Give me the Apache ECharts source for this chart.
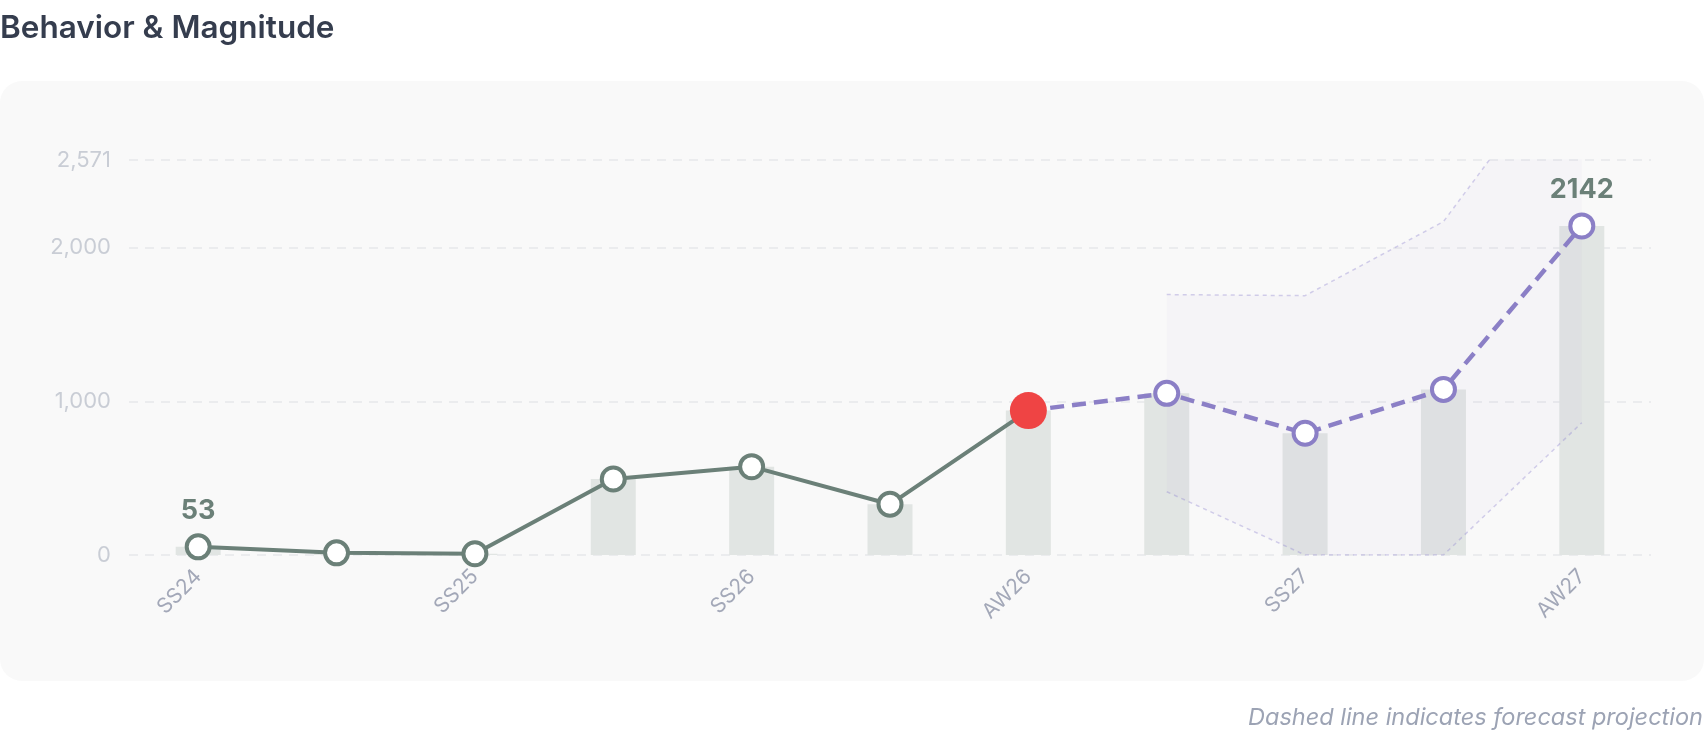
<!DOCTYPE html>
<html>
<head>
<meta charset="utf-8">
<script src="https://cdn.jsdelivr.net/npm/echarts@6/dist/echarts.min.js"></script>
<style>
html,body{margin:0;padding:0;background:#ffffff;}
#c{width:1704px;height:732px;}
</style>
</head>
<body>
<div id="c"></div>
<script>
// ---- data ----
var categories = ["SS24","AW24","SS25","AW25","SS26","Pre-AW26","AW26","Pre-SS27","SS27","Pre-AW27","AW27"];
var actualValues = [53, 14, 8, 495, 575, 330, 940, '-', '-', '-', '-'];
var forecastValues = ['-', '-', '-', '-', '-', '-', 940, 1052, 792, 1078, 2142];
var barValues = [53, 14, 8, 495, 575, 330, 940, 1052, 792, 1078, 2142];
var bandLower = ['-', '-', '-', '-', '-', '-', '-', 412, 0, 0, 861];
var bandUpper = ['-', '-', '-', '-', '-', '-', '-', 1695, 1688, 2170, 3380];
var yMax = 2571;
var currentIndex = 6;
var titleText = "Behavior & Magnitude";
var footnoteText = "Dashed line indicates forecast projection";

// ---- derived ----
var bandDiff = bandUpper.map(function (u, i) {
  return (u === '-' || bandLower[i] === '-') ? '-' : u - bandLower[i];
});
var GREEN = '#6b8078';
var PURPLE = '#8b7fc6';
var LABEL_GREEN = '#6b8078';

var actualData = actualValues.map(function (v, i) {
  if (i === currentIndex) {
    return { value: v, symbolSize: 37, itemStyle: { color: '#ef4444', borderWidth: 0 } };
  }
  if (i === 0) {
    return { value: v, label: { show: true } };
  }
  return v;
});
var forecastData = forecastValues.map(function (v, i) {
  if (i === currentIndex) return { value: v, symbol: 'none' };
  if (i === forecastValues.length - 1) return { value: v, label: { show: true } };
  return v;
});

var chart = echarts.init(document.getElementById('c'), null, { renderer: 'canvas' });
var FONT = 'Inter, "Noto Sans", sans-serif';

chart.setOption({
  animation: false,
  backgroundColor: '#ffffff',
  graphic: [
    { type: 'rect', z: -10, shape: { x: 0, y: 81, width: 1704, height: 600, r: 22 }, style: { fill: '#f9f9f9' } },
    { type: 'text', z: 10, style: { x: 0, y: 29, text: titleText, font: '600 31.5px ' + FONT, fill: '#353d4e', textVerticalAlign: 'middle', verticalAlign: 'middle' } },
    { type: 'text', z: 10, style: { x: 1703, y: 718, text: footnoteText, font: 'italic 23.5px ' + FONT, fill: '#9ca3b4', textAlign: 'right', align: 'right', textVerticalAlign: 'middle', verticalAlign: 'middle' } }
  ],
  grid: { left: 129, right: 53, top: 160, bottom: 177, containLabel: false },
  xAxis: {
    type: 'category',
    data: categories,
    boundaryGap: true,
    axisLine: { show: false },
    axisTick: { show: false },
    splitLine: { show: false },
    axisLabel: { interval: 1, rotate: 45, margin: 18, color: '#a3a8b8', fontSize: 21, fontFamily: FONT }
  },
  yAxis: {
    type: 'value',
    min: 0,
    max: yMax,
    interval: 1000,
    axisLine: { show: false },
    axisTick: { show: false },
    axisLabel: {
      margin: 18, color: '#c9cdd5', fontSize: 22, fontFamily: FONT,
      formatter: function (v) { return Math.round(v).toLocaleString('en-US'); }
    },
    splitLine: { show: true, lineStyle: { color: '#e6e7ea', width: 1.5, type: [9, 7] } }
  },
  series: [
    {
      type: 'bar', name: 'magnitude', data: barValues, barWidth: 45,
      itemStyle: { color: '#e1e5e3' }, z: 1, silent: true
    },
    {
      type: 'line', name: 'lower', data: bandLower, stack: 'band', symbol: 'none',
      lineStyle: { color: 'rgba(150,140,210,0.4)', width: 1.5, type: [4, 4] }, z: 2, silent: true
    },
    {
      type: 'line', name: 'upper', data: bandDiff, stack: 'band', symbol: 'none',
      lineStyle: { color: 'rgba(150,140,210,0.4)', width: 1.5, type: [4, 4] },
      areaStyle: { color: 'rgba(139,127,199,0.05)' }, z: 2, silent: true
    },
    {
      type: 'line', name: 'forecast', data: forecastData,
      symbol: 'circle', symbolSize: 23,
      lineStyle: { color: PURPLE, width: 4.5, type: [14, 8] },
      itemStyle: { color: '#ffffff', borderColor: PURPLE, borderWidth: 4 },
      label: { show: false, position: 'top', distance: 9, color: LABEL_GREEN, fontSize: 27, fontWeight: 'bold', fontFamily: FONT },
      z: 3
    },
    {
      type: 'line', name: 'actual', data: actualData,
      symbol: 'circle', symbolSize: 23,
      lineStyle: { color: GREEN, width: 4 },
      itemStyle: { color: '#ffffff', borderColor: GREEN, borderWidth: 4 },
      label: { show: false, position: 'top', distance: 9, color: LABEL_GREEN, fontSize: 27, fontWeight: 'bold', fontFamily: FONT },
      z: 4
    }
  ]
});
</script>
</body>
</html>
